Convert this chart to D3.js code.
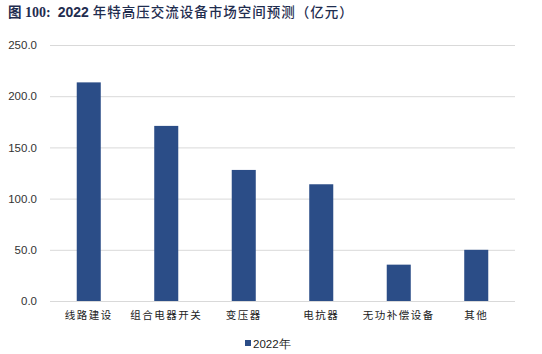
<!DOCTYPE html>
<html>
<head>
<meta charset="utf-8">
<script src="https://cdn.jsdelivr.net/npm/d3@7"></script>
<style>
  body { margin: 0; background: #fff; }
  svg { display: block; }
</style>
</head>
<body>
<svg id="chart" width="542" height="354"></svg>
<script>
// data
const categories = ["线路建设", "组合电器开关", "变压器", "电抗器", "无功补偿设备", "其他"];
const values2022 = [213.5, 171, 128, 114, 35.5, 50];
const yTicks = [0, 50, 100, 150, 200, 250];
const seriesName = "2022年";

const svg = d3.select("#chart");
const margin = { left: 50, right: 27, top: 45, bottom: 53 };
const width = 542, height = 354;

const x = d3.scaleBand()
	.domain(categories)
	.range([margin.left, width - margin.right])
	.paddingInner(0.69)
	.paddingOuter(0.345);

const y = d3.scaleLinear()
	.domain([0, 250])
	.range([height - margin.bottom, margin.top]);

// title, pieces in different fonts like the original
const title = svg.append("text")
	.attr("x", 8)
	.attr("y", 17)
	.style("font-weight", "bold")
	.style("font-size", "13.5px")
	.style("fill", "#1f2d4f");
title.append("tspan")
	.style("font-family", "'Noto Sans CJK SC', sans-serif")
	.text("图");
title.append("tspan")
	.style("font-family", "'Liberation Serif', serif")
	.style("font-size", "14px")
	.text(" 100:");
title.append("tspan")
	.attr("dx", 7)
	.style("font-family", "'Liberation Sans', Arial, sans-serif")
	.style("font-size", "14px")
	.text("2022");
title.append("tspan")
	.attr("dx", 4)
	.style("font-family", "'Noto Sans CJK SC', sans-serif")
	.style("font-weight", "500")
	.style("letter-spacing", "1px")
	.text("年特高压交流设备市场空间预测（亿元）");

// gridlines
svg.append("g")
	.selectAll("line")
	.data(yTicks)
	.enter().append("line")
	.attr("x1", margin.left)
	.attr("x2", width - margin.right)
	.attr("y1", d => y(d) + 0.5)
	.attr("y2", d => y(d) + 0.5)
	.style("stroke", "#d9d9d9")
	.style("stroke-width", 1);

// y axis labels
const yAxis = d3.axisLeft(y)
	.tickValues(yTicks)
	.tickSize(0)
	.tickPadding(13)
	.tickFormat(d3.format(".1f"));

svg.append("g")
	.attr("transform", "translate(" + margin.left + ",0)")
	.call(yAxis)
	.call(g => g.select(".domain").remove())
	.selectAll("text")
	.style("font-family", "'Liberation Sans', Arial, sans-serif")
	.style("font-size", "11.5px")
	.style("fill", "#333");

// bars
svg.append("g")
	.selectAll("rect")
	.data(values2022)
	.enter().append("rect")
	.attr("x", (d, i) => x(categories[i]))
	.attr("width", x.bandwidth())
	.attr("y", d => y(d))
	.attr("height", d => y(0) - y(d))
	.style("fill", "#2b4d87");

// x axis
const xAxis = d3.axisBottom(x).tickSize(0).tickPadding(11);
svg.append("g")
	.attr("transform", "translate(0," + y(0) + ")")
	.call(xAxis)
	.call(g => g.select(".domain").remove())
	.selectAll("text")
	.style("font-family", "'Noto Sans CJK SC', sans-serif")
	.style("font-size", "10.5px")
	.style("letter-spacing", "1.5px")
	.style("fill", "#222");

// legend
const legend = svg.append("g").attr("transform", "translate(245,344)");
legend.append("rect")
	.attr("x", 0).attr("y", -4)
	.attr("width", 6).attr("height", 6)
	.style("fill", "#2b4d87");
legend.append("text")
	.attr("x", 8).attr("y", 0)
	.attr("dy", "0.35em")
	.style("font-family", "'Liberation Sans', Arial, sans-serif")
	.style("font-size", "11.5px")
	.style("fill", "#222")
	.text(seriesName);
</script>
</body>
</html>
